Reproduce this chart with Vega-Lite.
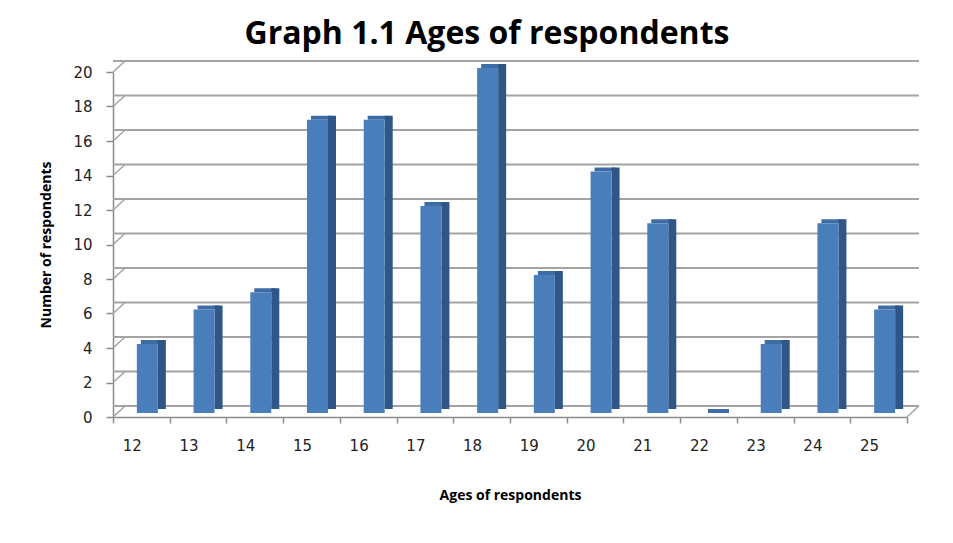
{
  "$schema": "https://vega.github.io/schema/vega-lite/v6.json",
  "width": 794,
  "height": 345,
  "autosize": "none",
  "padding": {"left": 113, "top": 72, "right": 46, "bottom": 126},
  "background": "white",
  "title": {
    "text": "Graph 1.1 Ages of respondents",
    "font": "Open Sans",
    "fontSize": 32,
    "fontWeight": "bold",
    "color": "#000000",
    "anchor": "middle",
    "baseline": "alphabetic",
    "offset": 24,
    "dx": -23,
    "dy": 40
  },
  "datasets": {
    "ages": [
      {"age": "12", "count": 4},
      {"age": "13", "count": 6},
      {"age": "14", "count": 7},
      {"age": "15", "count": 17},
      {"age": "16", "count": 17},
      {"age": "17", "count": 12},
      {"age": "18", "count": 20},
      {"age": "19", "count": 8},
      {"age": "20", "count": 14},
      {"age": "21", "count": 11},
      {"age": "22", "count": 0},
      {"age": "23", "count": 4},
      {"age": "24", "count": 11},
      {"age": "25", "count": 6}
    ],
    "grid": [
      {"v": 0}, {"v": 2}, {"v": 4}, {"v": 6}, {"v": 8}, {"v": 10},
      {"v": 12}, {"v": 14}, {"v": 16}, {"v": 18}, {"v": 20}
    ]
  },
  "config": {
    "view": {"stroke": null},
    "axis": {
      "labelFont": "DejaVu Sans",
      "labelFontSize": 15,
      "labelColor": "#222222",
      "domainColor": "#8c8c8c",
      "domainWidth": 1.5,
      "tickColor": "#8c8c8c",
      "tickWidth": 1.5,
      "titleFont": "Open Sans",
      "titleFontWeight": "bold",
      "titleFontSize": 14,
      "titleColor": "#000000",
      "grid": false,
      "labelOverlap": false
    }
  },
  "layer": [
    {
      "data": {"name": "grid"},
      "mark": {"type": "rule", "color": "#a3a3a3", "strokeWidth": 2, "xOffset": 12, "yOffset": -11},
      "encoding": {
        "y": {
          "field": "v",
          "type": "quantitative",
          "scale": {"domain": [0, 20]},
          "axis": {
            "title": "Number of respondents",
            "values": [0, 2, 4, 6, 8, 10, 12, 14, 16, 18, 20],
            "labelOverlap": false,
            "tickSize": 7,
            "labelPadding": 14,
            "titleX": -67,
            "titleBaseline": "middle"
          }
        }
      }
    },
    {
      "data": {"name": "grid"},
      "mark": {"type": "rule", "color": "#a3a3a3", "strokeWidth": 1.5, "xOffset": -28.3, "x2Offset": -16.3, "y2Offset": -11},
      "encoding": {
        "x": {"datum": "12", "type": "ordinal"},
        "x2": {"datum": "12"},
        "y": {
          "field": "v",
          "type": "quantitative",
          "axis": {
            "title": "Number of respondents",
            "values": [0, 2, 4, 6, 8, 10, 12, 14, 16, 18, 20],
            "labelOverlap": false,
            "tickSize": 7,
            "labelPadding": 14,
            "titleX": -67,
            "titleBaseline": "middle"
          }
        },
        "y2": {"field": "v"}
      }
    },
    {
      "data": {"values": [{"v": 0}]},
      "mark": {"type": "rule", "color": "#a3a3a3", "strokeWidth": 1.5, "xOffset": 28.3, "x2Offset": 40.3, "y2Offset": -11},
      "encoding": {
        "x": {"datum": "25", "type": "ordinal"},
        "x2": {"datum": "25"},
        "y": {
          "field": "v",
          "type": "quantitative",
          "axis": {
            "title": "Number of respondents",
            "values": [0, 2, 4, 6, 8, 10, 12, 14, 16, 18, 20],
            "labelOverlap": false,
            "tickSize": 7,
            "labelPadding": 14,
            "titleX": -67,
            "titleBaseline": "middle"
          }
        },
        "y2": {"field": "v"}
      }
    },
    {
      "data": {"name": "ages"},
      "layer": [
        {
          "mark": {"type": "bar", "color": "#3d6ca6", "width": 21, "xOffset": 10, "yOffset": -8, "y2Offset": -4},
          "encoding": {
            "x": {"field": "age", "type": "ordinal"},
            "y": {
              "field": "count",
              "type": "quantitative",
              "axis": {
                "title": "Number of respondents",
                "values": [0, 2, 4, 6, 8, 10, 12, 14, 16, 18, 20],
                "labelOverlap": false,
                "tickSize": 7,
                "labelPadding": 14,
                "titleX": -67,
                "titleBaseline": "middle"
              }
            },
            "y2": {"field": "count"}
          }
        },
        {
          "mark": {"type": "bar", "color": "#2f5686", "width": 8, "xOffset": 20.5, "yOffset": -8, "y2Offset": -4},
          "encoding": {
            "x": {"field": "age", "type": "ordinal"},
            "y": {
              "field": "count",
              "type": "quantitative",
              "axis": {
                "title": "Number of respondents",
                "values": [0, 2, 4, 6, 8, 10, 12, 14, 16, 18, 20],
                "labelOverlap": false,
                "tickSize": 7,
                "labelPadding": 14,
                "titleX": -67,
                "titleBaseline": "middle"
              }
            }
          }
        },
        {
          "mark": {"type": "bar", "color": "#4a7ebb", "width": 21, "xOffset": 6, "yOffset": -4, "y2Offset": -4},
          "encoding": {
            "x": {
              "field": "age",
              "type": "ordinal",
              "scale": {"paddingInner": 0, "paddingOuter": 0},
              "axis": {
                "title": "Ages of respondents",
                "labelAngle": 0,
                "tickBand": "extent",
                "tickSize": 6,
                "labelPadding": 22,
                "titleY": 71,
                "titleBaseline": "top"
              }
            },
            "y": {
              "field": "count",
              "type": "quantitative",
              "axis": {
                "title": "Number of respondents",
                "values": [0, 2, 4, 6, 8, 10, 12, 14, 16, 18, 20],
                "labelOverlap": false,
                "tickSize": 7,
                "labelPadding": 14,
                "titleX": -67,
                "titleBaseline": "middle"
              }
            }
          }
        }
      ]
    }
  ]
}
